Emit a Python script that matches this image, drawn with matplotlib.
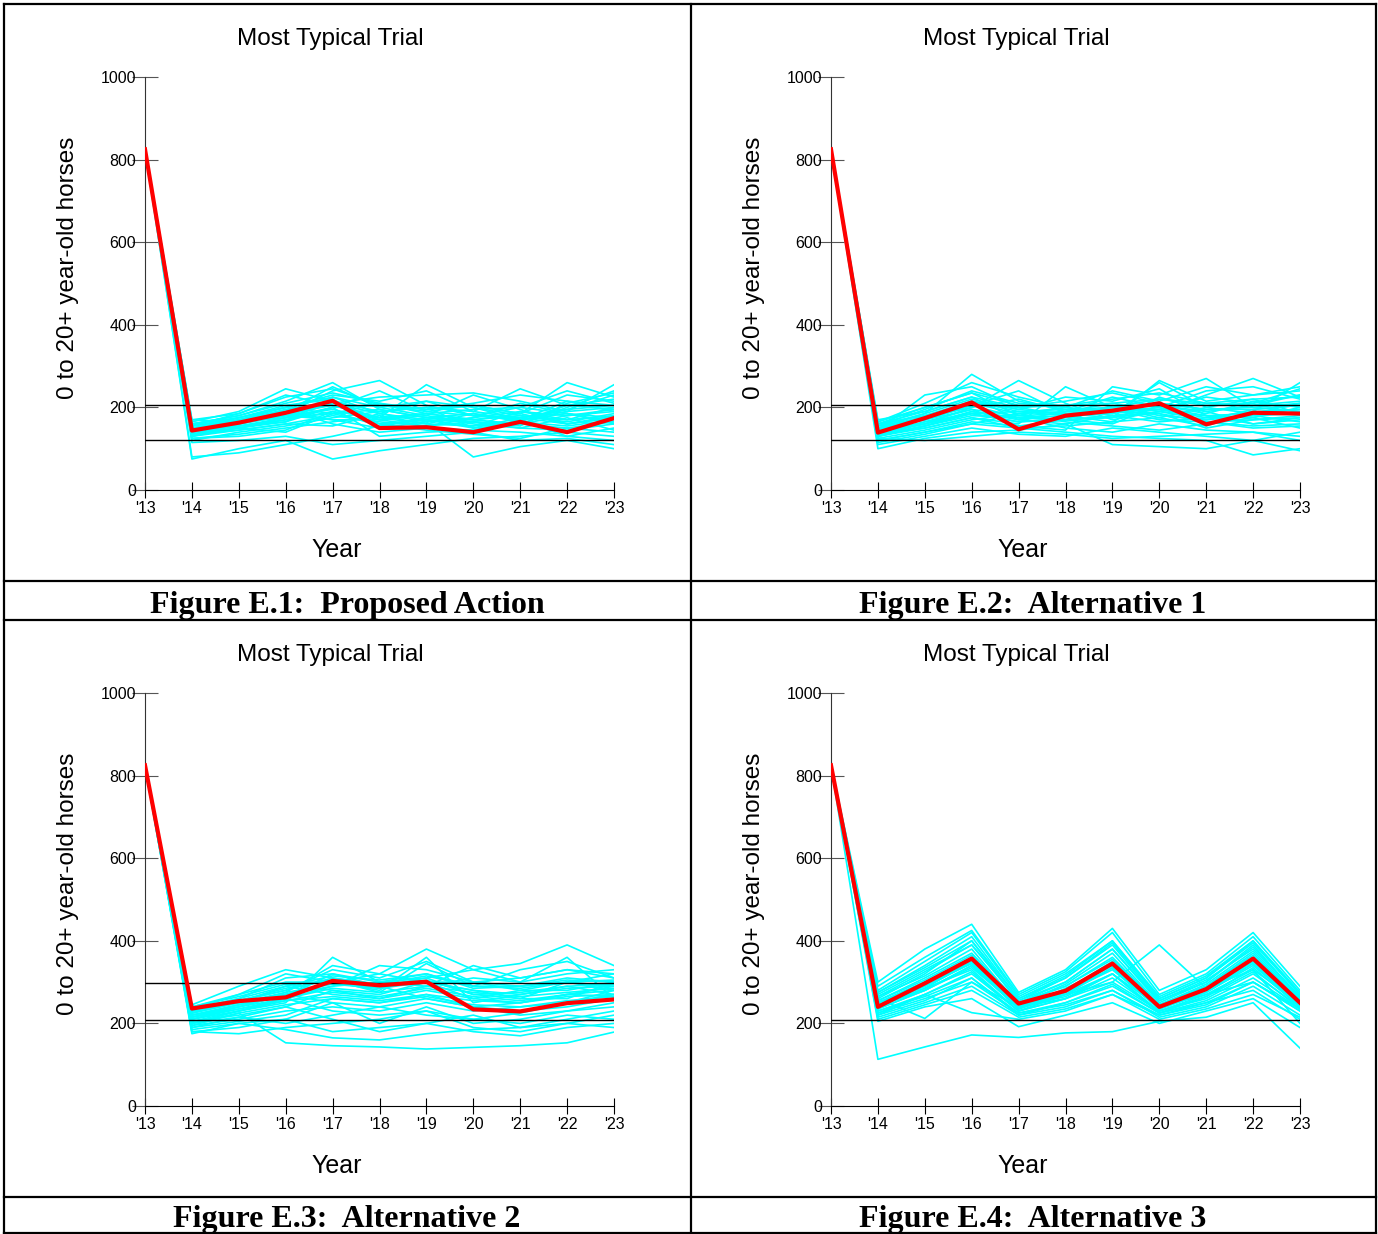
import matplotlib
matplotlib.use("Agg")
import matplotlib.pyplot as plt
from matplotlib.lines import Line2D

plt.rcParams['font.family'] = ['Liberation Sans', 'DejaVu Sans']

W, H = 1378, 1234
years = list(range(2013, 2024))
year_labels = ["'13", "'14", "'15", "'16", "'17", "'18", "'19", "'20", "'21", "'22", "'23"]
start_value = 825

# most typical trial for each scenario ('14 .. '23)
typical_e1 = [144, 163, 187, 216, 150, 152, 140, 165, 140, 174]
typical_e2 = [139, 174, 212, 147, 180, 192, 210, 159, 187, 185]
typical_e3 = [236, 254, 263, 303, 292, 301, 234, 229, 249, 258]
typical_e4 = [240, 297, 357, 248, 279, 345, 240, 283, 357, 250]

# reference levels (horizontal lines)
levels_e1 = [207, 120]
levels_e2 = [207, 120]
levels_e3 = [299, 208]
levels_e4 = [208]

# individual simulation trials ('14 .. '23)
trials_e1 = [
    [160, 175, 200, 225, 185, 170, 155, 190, 170, 200],
    [150, 165, 190, 250, 200, 215, 180, 175, 195, 230],
    [140, 155, 175, 200, 240, 190, 205, 185, 160, 180],
    [170, 185, 230, 205, 175, 255, 200, 170, 215, 190],
    [130, 145, 160, 180, 165, 155, 175, 210, 185, 165],
    [120, 140, 155, 175, 190, 200, 150, 160, 200, 240],
    [165, 190, 245, 215, 170, 180, 230, 195, 160, 175],
    [145, 160, 185, 240, 265, 205, 180, 200, 240, 210],
    [135, 150, 170, 190, 155, 175, 160, 150, 175, 145],
    [155, 170, 200, 230, 215, 240, 190, 245, 205, 220],
    [125, 135, 150, 165, 180, 160, 185, 170, 190, 200],
    [160, 180, 215, 260, 195, 175, 170, 185, 260, 225],
    [80, 90, 110, 130, 155, 170, 165, 150, 145, 160],
    [75, 100, 120, 75, 95, 110, 125, 130, 140, 130],
    [150, 155, 165, 200, 130, 140, 145, 170, 130, 150],
    [140, 170, 190, 170, 150, 165, 80, 105, 120, 100],
    [170, 165, 175, 210, 225, 230, 235, 215, 190, 255],
    [130, 160, 195, 160, 140, 150, 145, 140, 130, 120],
    [145, 175, 205, 220, 160, 145, 135, 125, 150, 140],
    [115, 120, 130, 110, 120, 130, 140, 120, 125, 110],
    [155, 185, 225, 245, 205, 195, 210, 230, 215, 205],
    [135, 145, 160, 155, 185, 215, 200, 180, 170, 180],
    [160, 150, 140, 185, 210, 185, 170, 160, 180, 195],
    [125, 130, 145, 190, 175, 160, 155, 165, 155, 170],
    [150, 160, 180, 195, 170, 185, 195, 200, 185, 160],
    [140, 150, 165, 225, 200, 180, 165, 155, 210, 235],
    [150, 170, 195, 215, 190, 200, 190, 175, 195, 205],
    [145, 160, 180, 210, 185, 165, 175, 190, 180, 190],
    [135, 160, 185, 205, 175, 185, 170, 180, 165, 185],
    [155, 175, 200, 185, 195, 175, 185, 165, 205, 195],
    [140, 155, 170, 200, 205, 190, 180, 170, 185, 175],
    [130, 150, 175, 185, 160, 170, 150, 175, 160, 175],
    [160, 180, 210, 235, 210, 195, 205, 185, 230, 215],
    [150, 165, 180, 170, 170, 155, 165, 160, 150, 165],
]

trials_e2 = [
    [165, 210, 260, 225, 200, 240, 215, 250, 230, 250],
    [150, 185, 280, 215, 195, 185, 260, 200, 185, 210],
    [140, 160, 200, 265, 210, 170, 190, 230, 270, 225],
    [130, 150, 175, 160, 250, 200, 175, 155, 190, 260],
    [120, 140, 165, 155, 145, 250, 230, 270, 200, 190],
    [160, 200, 235, 180, 170, 160, 205, 185, 215, 200],
    [110, 130, 150, 135, 130, 150, 140, 130, 120, 140],
    [100, 125, 140, 145, 160, 110, 105, 100, 120, 95],
    [155, 175, 215, 195, 225, 215, 245, 180, 160, 175],
    [145, 230, 250, 200, 180, 200, 220, 210, 205, 230],
    [135, 155, 190, 170, 160, 180, 165, 175, 180, 165],
    [125, 145, 170, 185, 200, 190, 200, 165, 150, 155],
    [150, 170, 205, 240, 185, 175, 265, 215, 230, 240],
    [115, 135, 160, 150, 140, 130, 125, 120, 85, 100],
    [170, 190, 225, 170, 190, 225, 200, 240, 250, 220],
    [140, 165, 185, 165, 175, 190, 185, 150, 170, 180],
    [130, 155, 180, 175, 150, 140, 160, 145, 140, 130],
    [160, 180, 210, 200, 215, 235, 210, 195, 200, 210],
    [145, 170, 195, 155, 170, 205, 180, 170, 195, 205],
    [120, 140, 160, 185, 165, 155, 145, 160, 175, 150],
    [135, 150, 175, 150, 155, 165, 225, 190, 160, 170],
    [155, 195, 240, 210, 200, 180, 195, 225, 210, 245],
    [125, 120, 130, 140, 135, 125, 130, 135, 140, 120],
    [150, 175, 200, 220, 190, 210, 190, 180, 185, 195],
    [140, 160, 185, 190, 180, 165, 175, 200, 220, 185],
    [130, 165, 195, 180, 185, 195, 170, 165, 155, 160],
    [145, 180, 215, 190, 195, 200, 205, 190, 205, 215],
    [150, 170, 205, 175, 180, 185, 200, 180, 175, 200],
    [160, 190, 225, 200, 205, 210, 220, 205, 210, 230],
    [135, 160, 190, 175, 170, 175, 190, 170, 180, 185],
    [140, 175, 210, 185, 190, 195, 210, 195, 195, 205],
    [155, 185, 220, 195, 185, 190, 195, 175, 190, 195],
    [130, 155, 185, 165, 170, 180, 185, 165, 170, 175],
    [165, 200, 235, 205, 205, 220, 235, 210, 220, 225],
]

trials_e3 = [
    [230, 255, 280, 330, 310, 350, 300, 290, 310, 300],
    [220, 240, 270, 300, 320, 380, 330, 345, 390, 340],
    [210, 230, 250, 360, 300, 290, 340, 310, 330, 320],
    [245, 290, 330, 310, 290, 310, 270, 260, 300, 280],
    [200, 215, 240, 280, 270, 300, 260, 250, 270, 290],
    [190, 205, 220, 260, 250, 270, 240, 230, 240, 260],
    [235, 260, 310, 320, 300, 320, 290, 330, 350, 310],
    [180, 175, 190, 200, 210, 230, 190, 180, 200, 220],
    [215, 235, 260, 290, 340, 330, 300, 280, 280, 300],
    [225, 250, 290, 270, 260, 290, 310, 300, 320, 330],
    [195, 225, 153, 146, 143, 138, 142, 146, 153, 179],
    [240, 270, 300, 300, 280, 360, 250, 270, 290, 270],
    [205, 220, 240, 210, 180, 200, 220, 190, 210, 230],
    [175, 200, 185, 165, 160, 175, 185, 190, 200, 190],
    [230, 250, 270, 250, 240, 260, 240, 220, 230, 250],
    [185, 200, 210, 250, 200, 240, 200, 210, 230, 240],
    [220, 245, 275, 340, 320, 300, 280, 260, 260, 300],
    [210, 240, 270, 290, 300, 310, 330, 300, 360, 260],
    [200, 230, 260, 230, 220, 230, 210, 200, 220, 210],
    [195, 210, 230, 240, 230, 250, 230, 240, 250, 280],
    [240, 265, 295, 280, 260, 280, 260, 280, 300, 320],
    [215, 245, 265, 320, 290, 260, 240, 250, 270, 265],
    [180, 190, 210, 180, 190, 200, 180, 170, 190, 200],
    [225, 255, 285, 305, 275, 345, 290, 290, 300, 290],
    [235, 270, 320, 300, 290, 300, 300, 310, 330, 310],
    [190, 215, 200, 220, 240, 220, 210, 225, 250, 270],
    [225, 250, 275, 295, 285, 300, 280, 270, 285, 290],
    [215, 240, 260, 285, 275, 290, 275, 265, 275, 285],
    [205, 230, 255, 275, 265, 285, 265, 255, 270, 280],
    [230, 255, 280, 310, 295, 315, 290, 285, 300, 305],
    [210, 235, 255, 265, 255, 270, 255, 250, 265, 270],
    [220, 245, 270, 300, 285, 305, 270, 275, 290, 295],
    [200, 225, 245, 260, 250, 265, 245, 240, 255, 265],
    [235, 260, 290, 315, 305, 320, 285, 290, 305, 300],
]

trials_e4 = [
    [250, 300, 360, 240, 280, 350, 240, 280, 360, 250],
    [280, 350, 420, 265, 320, 400, 260, 310, 400, 270],
    [230, 270, 320, 230, 260, 310, 230, 260, 320, 240],
    [300, 380, 440, 275, 330, 430, 280, 330, 420, 290],
    [215, 250, 290, 220, 240, 280, 215, 240, 290, 220],
    [260, 320, 400, 250, 300, 380, 250, 300, 390, 260],
    [240, 290, 350, 235, 275, 330, 235, 275, 340, 245],
    [113, 143, 172, 166, 177, 180, 205, 215, 250, 140],
    [260, 212, 300, 240, 260, 300, 230, 270, 300, 230],
    [220, 270, 226, 210, 230, 270, 220, 250, 280, 210],
    [205, 240, 260, 192, 220, 250, 200, 230, 260, 190],
    [270, 330, 390, 255, 310, 390, 255, 305, 380, 265],
    [245, 280, 340, 245, 270, 300, 390, 285, 330, 250],
    [225, 260, 300, 225, 250, 290, 225, 250, 300, 235],
    [290, 360, 425, 270, 325, 420, 270, 320, 410, 280],
    [210, 245, 280, 215, 235, 270, 210, 235, 270, 215],
    [255, 310, 370, 250, 290, 360, 245, 290, 370, 255],
    [235, 280, 335, 240, 265, 320, 230, 265, 335, 240],
    [275, 340, 410, 260, 315, 400, 265, 315, 400, 275],
    [250, 290, 345, 235, 285, 340, 240, 285, 350, 245],
    [220, 255, 310, 225, 245, 280, 220, 245, 300, 230],
    [265, 315, 380, 245, 295, 370, 245, 295, 375, 260],
    [240, 285, 330, 230, 270, 320, 240, 270, 330, 200],
    [230, 265, 310, 220, 250, 295, 225, 255, 310, 235],
    [245, 295, 355, 245, 280, 345, 240, 285, 355, 250],
    [255, 305, 365, 250, 290, 355, 245, 290, 365, 255],
    [235, 280, 340, 235, 270, 335, 235, 275, 345, 245],
    [265, 325, 390, 255, 300, 380, 255, 300, 385, 265],
    [225, 270, 325, 230, 260, 320, 225, 265, 325, 235],
    [275, 335, 400, 260, 310, 395, 260, 310, 395, 270],
    [250, 300, 345, 240, 280, 340, 245, 280, 350, 250],
    [240, 285, 350, 240, 275, 335, 235, 280, 345, 240],
]

captions = ["Figure E.1:  Proposed Action", "Figure E.2:  Alternative 1",
            "Figure E.3:  Alternative 2", "Figure E.4:  Alternative 3"]


def fx(px):
    return px / W


def fy(py):
    return 1 - py / H


def draw_panel(ax, trials, typical, levels):
    for t in trials:
        ax.plot(years, [start_value] + t, color='#00FFFF', lw=1.2, zorder=2)
    for lv in levels:
        ax.axhline(lv, color='black', lw=1.0, zorder=3)
    ax.plot(years, [start_value] + typical, color='red', lw=3, zorder=4)
    ax.set_xlim(2013, 2023)
    ax.set_ylim(0, 1000)
    for s in ['top', 'right']:
        ax.spines[s].set_visible(False)
    ax.spines['left'].set_color('#333333')
    ax.set_yticks([0, 200, 400, 600, 800, 1000])
    ax.tick_params(axis='y', direction='inout', length=19, labelsize=11.5,
                   color='#555555', pad=-3)
    ax.set_xticks(years)
    ax.set_xticklabels(year_labels)
    ax.tick_params(axis='x', direction='inout', length=12, labelsize=11.5, pad=2)


fig = plt.figure(figsize=(W / 100, H / 100), dpi=100)

# (axes left, axes bottom) in pixels for each panel
panels = [
    (145, 490, trials_e1, typical_e1, levels_e1),
    (831, 490, trials_e2, typical_e2, levels_e2),
    (145, 1106, trials_e3, typical_e3, levels_e3),
    (831, 1106, trials_e4, typical_e4, levels_e4),
]
for x0, y0, trials, typical, levels in panels:
    ax = fig.add_axes([fx(x0), fy(y0), 469 / W, 413 / H])
    draw_panel(ax, trials, typical, levels)
    fig.text(fx(x0 + 185), fy(y0 - 451), 'Most Typical Trial', ha='center',
             va='center', fontsize=17.5)
    fig.text(fx(x0 + 192), fy(y0 + 60), 'Year', ha='center', va='center',
             fontsize=18)
    fig.text(fx(x0 - 77), fy(y0 - 222), '0 to 20+ year-old horses',
             ha='center', va='center', rotation=90, fontsize=17.5)

# table grid around the panels
grid = [
    ((4, 4), (1376, 4)),
    ((4, 581), (1376, 581)),
    ((4, 620), (1376, 620)),
    ((4, 1197), (1376, 1197)),
    ((4, 1233), (1376, 1233)),
    ((4, 4), (4, 1234)),
    ((691, 4), (691, 1234)),
    ((1376, 4), (1376, 1234)),
]
for (xa, ya), (xb, yb) in grid:
    fig.add_artist(Line2D([fx(xa), fx(xb)], [fy(ya), fy(yb)], color='black',
                          lw=1.6, transform=fig.transFigure))

cap_pos = [(347, 605), (1033, 605), (347, 1219), (1033, 1219)]
for (cx, cy), txt in zip(cap_pos, captions):
    fig.text(fx(cx), fy(cy), txt, ha='center', va='center', fontsize=23,
             fontweight='bold', family=['Liberation Serif', 'DejaVu Serif'])

fig.savefig('out.png', dpi=100)
